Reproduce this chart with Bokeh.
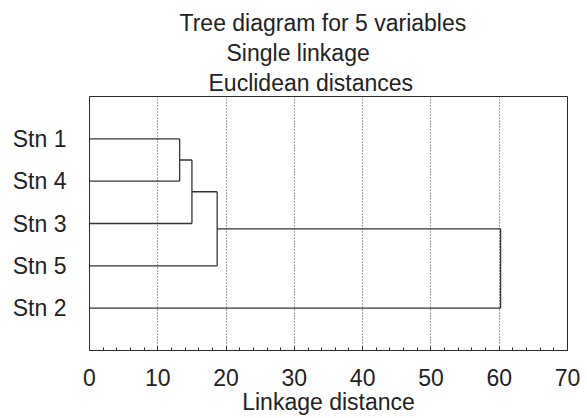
from bokeh.plotting import figure
from bokeh.models import Range1d, FixedTicker, Title
from bokeh.embed import file_html
from bokeh.resources import INLINE

# ---- data ----
stations = ["Stn 1", "Stn 4", "Stn 3", "Stn 5", "Stn 2"]       # leaf order, top to bottom
merge_a = ["Stn 1", "C1", "C2", "C3"]                           # first member of each join
merge_b = ["Stn 4", "Stn 3", "Stn 5", "Stn 2"]                  # second member of each join
merge_dist = [13.2, 15.0, 18.7, 60.2]                           # linkage distance of each join
x_major = [0, 10, 20, 30, 40, 50, 60, 70]
x_minor = list(range(0, 71, 2))
title_lines = ["Tree diagram for 5 variables", "Single linkage", "Euclidean distances"]
x_label = "Linkage distance"

FONT = "Liberation Sans"
FS = "23px"
INK = "#2b2b2b"

# ---- build dendrogram segments ----
pos = {s: i + 1 for i, s in enumerate(stations)}
hgt = {s: 0.0 for s in stations}
x0, y0, x1, y1 = [], [], [], []
for k, (a, b, d) in enumerate(zip(merge_a, merge_b, merge_dist)):
    ya, yb = pos[a], pos[b]
    x0 += [hgt[a], hgt[b], d]
    y0 += [ya, yb, ya]
    x1 += [d, d, d]
    y1 += [ya, yb, yb]
    c = "C%d" % (k + 1)
    pos[c] = (ya + yb) / 2.0
    hgt[c] = d

p = figure(width=587, height=418, output_backend="svg", toolbar_location=None,
           x_range=Range1d(0, 70), y_range=Range1d(len(stations) + 1, 0),
           min_border_left=89, min_border_right=20, min_border_top=96, min_border_bottom=68,
           background_fill_color="white", border_fill_color="white")
p.outline_line_color = INK
p.outline_line_width = 1

# grid
p.ygrid.visible = False
p.xgrid.ticker = FixedTicker(ticks=x_major[1:-1])
p.xgrid.grid_line_color = "#444444"
p.xgrid.grid_line_dash = "1 2"
p.xgrid.grid_line_width = 1

# bottom axis
xa = p.xaxis[0]
xa.ticker = FixedTicker(ticks=x_major, minor_ticks=x_minor)
xa.major_tick_in = 4
xa.major_tick_out = 0
xa.minor_tick_in = 3
xa.minor_tick_out = 0
xa.axis_line_color = INK
xa.major_tick_line_color = INK
xa.minor_tick_line_color = INK
xa.major_label_text_font = FONT
xa.major_label_text_font_size = FS
xa.major_label_text_color = "#222222"
xa.major_label_standoff = 18
xa.axis_label = x_label
xa.axis_label_text_font = FONT
xa.axis_label_text_font_size = FS
xa.axis_label_text_font_style = "normal"
xa.axis_label_text_color = "#222222"
xa.axis_label_standoff = 0

# left axis
ya_ = p.yaxis[0]
ya_.ticker = FixedTicker(ticks=[pos[s] for s in stations], minor_ticks=[])
ya_.major_label_overrides = {pos[s]: s for s in stations}
ya_.major_tick_in = 0
ya_.major_tick_out = 0
ya_.minor_tick_in = 0
ya_.minor_tick_out = 0
ya_.axis_line_color = INK
ya_.major_label_text_font = FONT
ya_.major_label_text_font_size = FS
ya_.major_label_text_color = "#222222"
ya_.major_label_standoff = 23

# dendrogram
p.segment(x0=x0, y0=y0, x1=x1, y1=y1, line_color="#333333", line_width=1.3)

# title lines (added bottom-most first)
title_offsets = [90, 137, 119]
for t, off in reversed(list(zip(title_lines, title_offsets))):
    p.add_layout(Title(text=t, align="left", offset=off, standoff=2,
                       text_font=FONT, text_font_size=FS, text_font_style="normal",
                       text_color="#222222"), "above")

open("out.html", "w").write(file_html(p, INLINE))
